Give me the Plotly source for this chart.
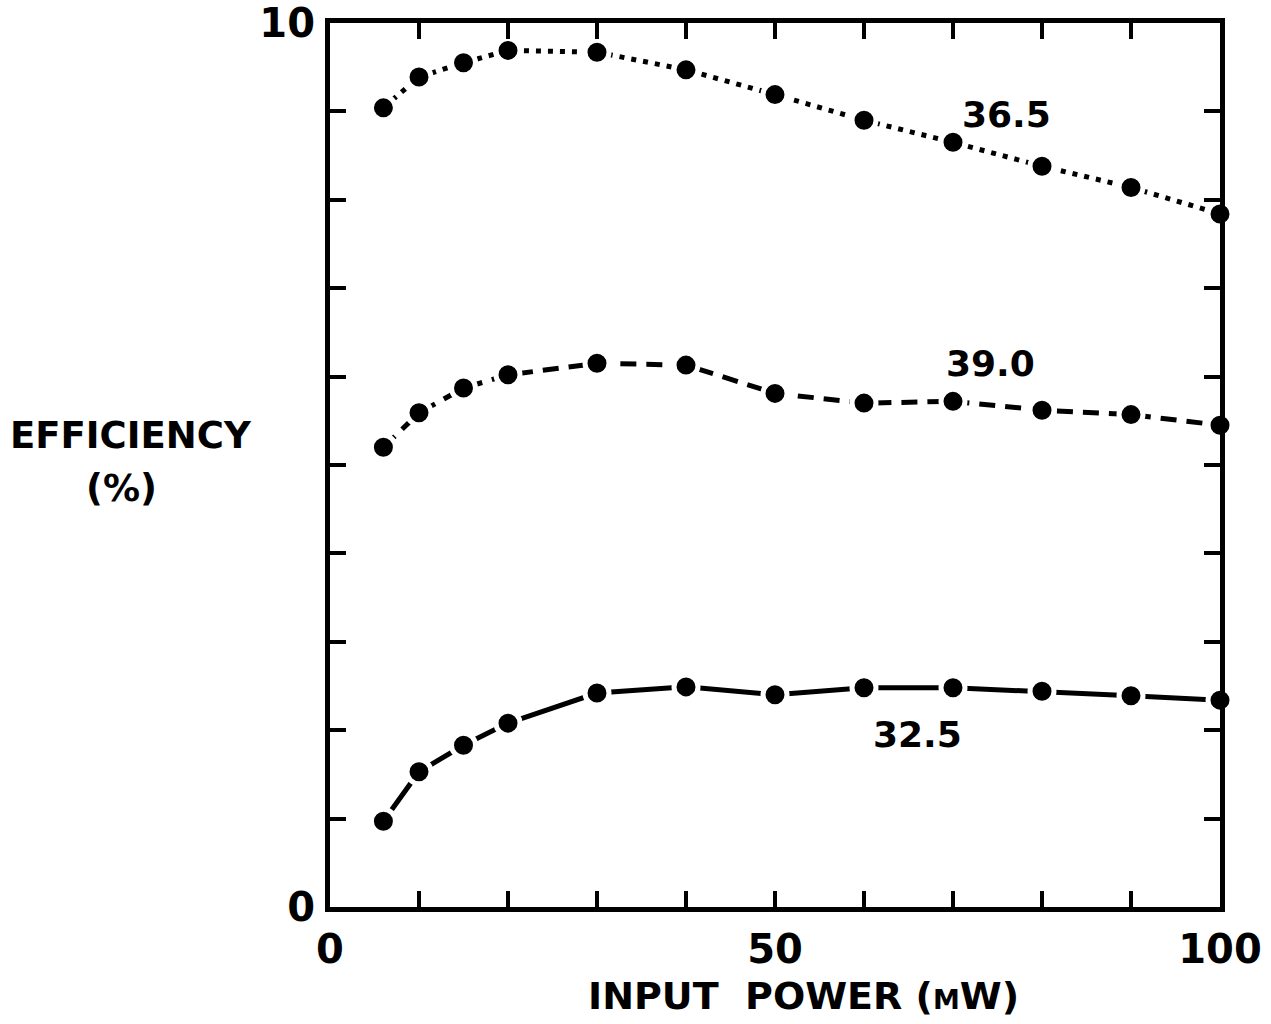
import plotly.graph_objects as go

# Data
input_power = [6, 10, 15, 20, 30, 40, 50, 60, 70, 80, 90, 100]
eff_36_5 = [9.04, 9.39, 9.55, 9.69, 9.67, 9.47, 9.19, 8.90, 8.65, 8.38, 8.14, 7.84]
eff_39_0 = [5.20, 5.59, 5.87, 6.02, 6.15, 6.13, 5.81, 5.70, 5.72, 5.62, 5.57, 5.45]
eff_32_5 = [0.97, 1.53, 1.83, 2.08, 2.42, 2.49, 2.40, 2.48, 2.48, 2.44, 2.39, 2.34]

series_names = ["36.5", "39.0", "32.5"]
x_tick_vals = list(range(0, 101, 10))
x_tick_text = ["<b>0</b>", "", "", "", "", "<b>50</b>", "", "", "", "", "<b>100</b>"]
y_tick_vals = list(range(0, 11))
y_tick_text = ["<b>0</b>"] + [""] * 9 + ["<b>10</b>"]

FONT = "DejaVu Sans"
BLACK = "#000000"

W, H = 1271, 1024
ml, mr, mt, mb = 330, 51, 23, 117
pw, ph = W - ml - mr, H - mt - mb


def px_to_paper(px, py):
    return (px - ml) / pw, 1 - (py - mt) / ph


fig = go.Figure()

styles = [
    (eff_36_5, "5px,7px"),
    (eff_39_0, "16px,10px"),
    (eff_32_5, "solid"),
]
for (vals, dash), name in zip(styles, series_names):
    fig.add_trace(go.Scatter(
        x=input_power, y=vals, mode="lines+markers", name=name,
        line=dict(color=BLACK, width=5, dash=dash),
        marker=dict(symbol="circle", size=24, color=BLACK,
                    line=dict(color="white", width=5)),
        cliponaxis=False, showlegend=False,
    ))

# Series labels (data coordinates)
label_pos = [(76.0, 8.96), (74.2, 6.15), (66.0, 1.95)]
for name, (lx, ly) in zip(series_names, label_pos):
    fig.add_annotation(x=lx, y=ly, xref="x", yref="y", text=f"<b>{name}</b>",
                       xanchor="center", yanchor="middle",
                       showarrow=False, font=dict(family=FONT, size=36, color=BLACK))

# Axis titles placed in pixel positions of the reference
titles = [
    ("<b>EFFICIENCY</b>", 131, 435, 37),
    ("<b>(%)</b>", 121, 488, 37),
    ("<b>INPUT  POWER (<span style='font-size:27px'>M</span>W)</b>", 803, 996, 38),
]
for txt, tx, ty, fs in titles:
    ax_, ay_ = px_to_paper(tx, ty)
    fig.add_annotation(x=ax_, y=ay_, xref="paper", yref="paper", text=txt,
                       xanchor="center", yanchor="middle",
                       showarrow=False, font=dict(family=FONT, size=fs, color=BLACK))

fig.update_layout(
    width=W, height=H,
    margin=dict(l=ml, r=mr, t=mt, b=mb, pad=0, autoexpand=False),
    paper_bgcolor="white", plot_bgcolor="white",
    font=dict(family=FONT, color=BLACK),
    xaxis=dict(
        range=[0, 100], tickvals=x_tick_vals, ticktext=x_tick_text,
        ticks="inside", ticklen=16, tickwidth=4, tickcolor=BLACK,
        showline=True, linewidth=5, linecolor=BLACK, mirror="ticks",
        showgrid=False, zeroline=False, automargin=False,
        tickfont=dict(family=FONT, size=40, color=BLACK),
        ticklabelstandoff=3,
    ),
    yaxis=dict(
        range=[0, 10], tickvals=y_tick_vals, ticktext=y_tick_text,
        ticks="inside", ticklen=16, tickwidth=4, tickcolor=BLACK,
        showline=True, linewidth=5, linecolor=BLACK, mirror="ticks",
        showgrid=False, zeroline=False, automargin=False,
        tickfont=dict(family=FONT, size=40, color=BLACK),
        ticklabelstandoff=2,
    ),
)

fig.write_html("out.html")
